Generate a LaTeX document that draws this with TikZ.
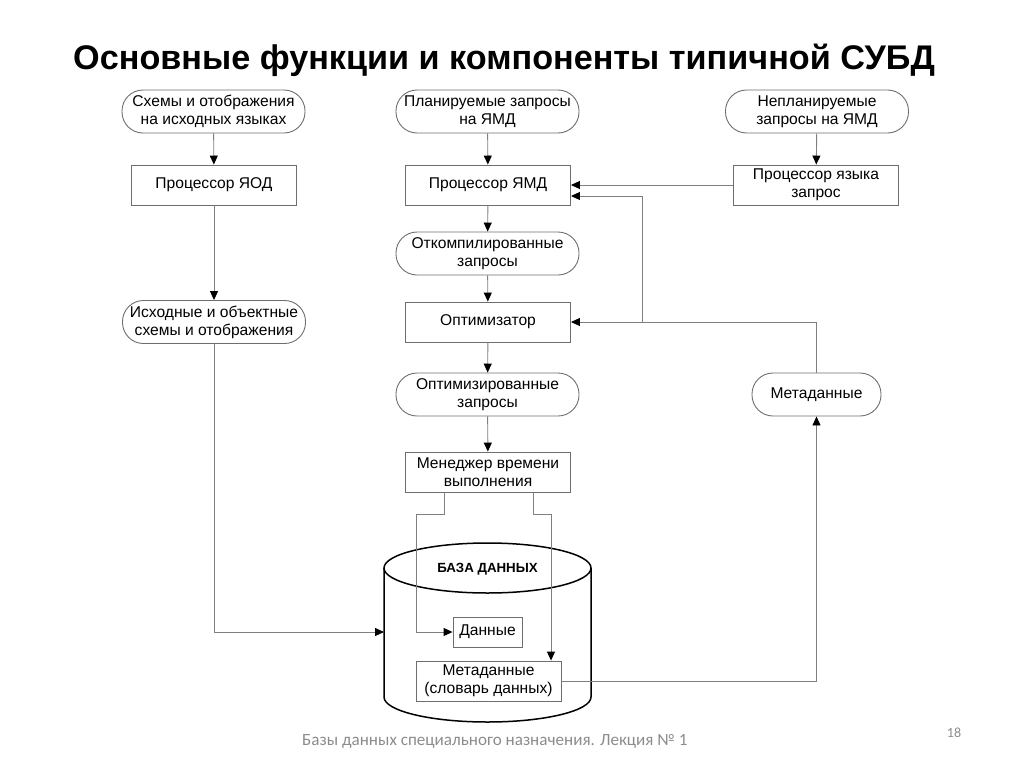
\documentclass[tikz,border=0pt]{standalone}
\usepackage{fontspec}
\setmainfont{Liberation Sans}
\newfontfamily\footfont{Carlito}
\usetikzlibrary{arrows.meta}
\definecolor{linegray}{HTML}{7F7F7F}
\definecolor{boxgray}{HTML}{6E6E6E}
\definecolor{footgray}{HTML}{8C8C8C}
\tikzset{
  lbl/.style={font=\fontsize{15.6}{18}\selectfont, align=center, inner sep=0pt},
  procbox/.style={lbl, draw=boxgray, line width=0.9pt, minimum width=165pt, minimum height=40pt},
  termbox/.style={lbl, draw=boxgray, line width=0.9pt, rounded corners=21pt, minimum width=183pt, minimum height=43pt},
  conn/.style={draw=linegray, line width=0.9pt},
  arr/.style={conn, -{Triangle[length=9pt,width=8pt,color=black]}},
}
\begin{document}
\begin{tikzpicture}[x=1pt,y=-1pt]
\useasboundingbox (0,0) rectangle (1024,768);
\node[font=\bfseries\fontsize{34.2}{38}\selectfont, inner sep=0pt] (title) at (504,60) {Основные функции и компоненты типичной СУБД};

% left column
\node[termbox] (t1) at (213.5,111.5) {Схемы и отображения\\на исходных языках};
\node[procbox] (p1) at (214,185) {Процессор ЯОД};
\node[termbox] (t2) at (214,322) {Исходные и объектные\\схемы и отображения};

% middle column
\node[termbox] (t3) at (487.5,111.5) {Планируемые запросы\\на ЯМД};
\node[procbox] (p2) at (488,185) {Процессор ЯМД};
\node[termbox] (t4) at (487.5,253.5) {Откомпилированные\\запросы};
\node[procbox] (p3) at (488,322) {Оптимизатор};
\node[termbox] (t5) at (487.5,394.5) {Оптимизированные\\запросы};
\node[procbox] (p4) at (488,472) {Менеджер времени\\выполнения};

% right column
\node[termbox] (t6) at (817,111.5) {Непланируемые\\запросы на ЯМД};
\node[procbox] (p5) at (816,185) {Процессор языка\\запрос};
\node[termbox, minimum width=129pt] (meta) at (816.5,394.5) {Метаданные};

% database cylinder
\draw[line width=1.5pt, fill=white] (487.5,568) ellipse [x radius=103.5, y radius=25];
\draw[line width=1.5pt] (384,568) -- (384,697) arc[start angle=180, end angle=0, x radius=103.5, y radius=25] -- (591,568);
\node[font=\bfseries\fontsize{13.3}{15}\selectfont, inner sep=0pt] (dbname) at (487.5,569) {БАЗА ДАННЫХ};
\coordinate (dbleft) at (384,632);
\node[lbl, draw=boxgray, line width=0.9pt, minimum width=69pt, minimum height=30pt] (data) at (487.5,632) {Данные};
\node[lbl, draw=boxgray, line width=0.9pt, minimum width=145pt, minimum height=40pt] (md) at (488.5,681) {Метаданные\\(словарь данных)};

% connectors
\draw[arr] (t1) -- (p1);
\draw[arr] (p1) -- (t2);
\draw[arr] (t2.south) |- (dbleft);
\draw[arr] (t3) -- (p2);
\draw[arr] (p2) -- (t4);
\draw[arr] (t4) -- (p3);
\draw[arr] (p3) -- (t5);
\draw[arr] (t5) -- (p4);
\draw[arr] (t6) -- (p5);
\draw[arr] (p5.west) -- (p2.east);
\draw[arr] (meta.north) |- (p3.east);
\coordinate (junc) at (642,322);
\draw[arr] (junc) |- ([yshift=-11pt]p2.east);
\draw[arr] ([xshift=-44pt]p4.south) -- ++(0,22) -| (416,632) -- (data.west);
\draw[arr] ([xshift=45pt]p4.south) -- ++(0,22) -| (md.north -| 551,0);
\draw[arr] (md.east) -| (meta.south);

% footer
\node[font=\footfont\fontsize{17.1}{20}\selectfont, text=footgray, anchor=west, inner sep=0pt] (foot) at (302,741) {Базы данных специального назначения. Лекция № 1};
\node[font=\footfont\fontsize{14}{16}\selectfont, text=footgray, inner sep=0pt] (pnum) at (954,733) {18};
\end{tikzpicture}
\end{document}
